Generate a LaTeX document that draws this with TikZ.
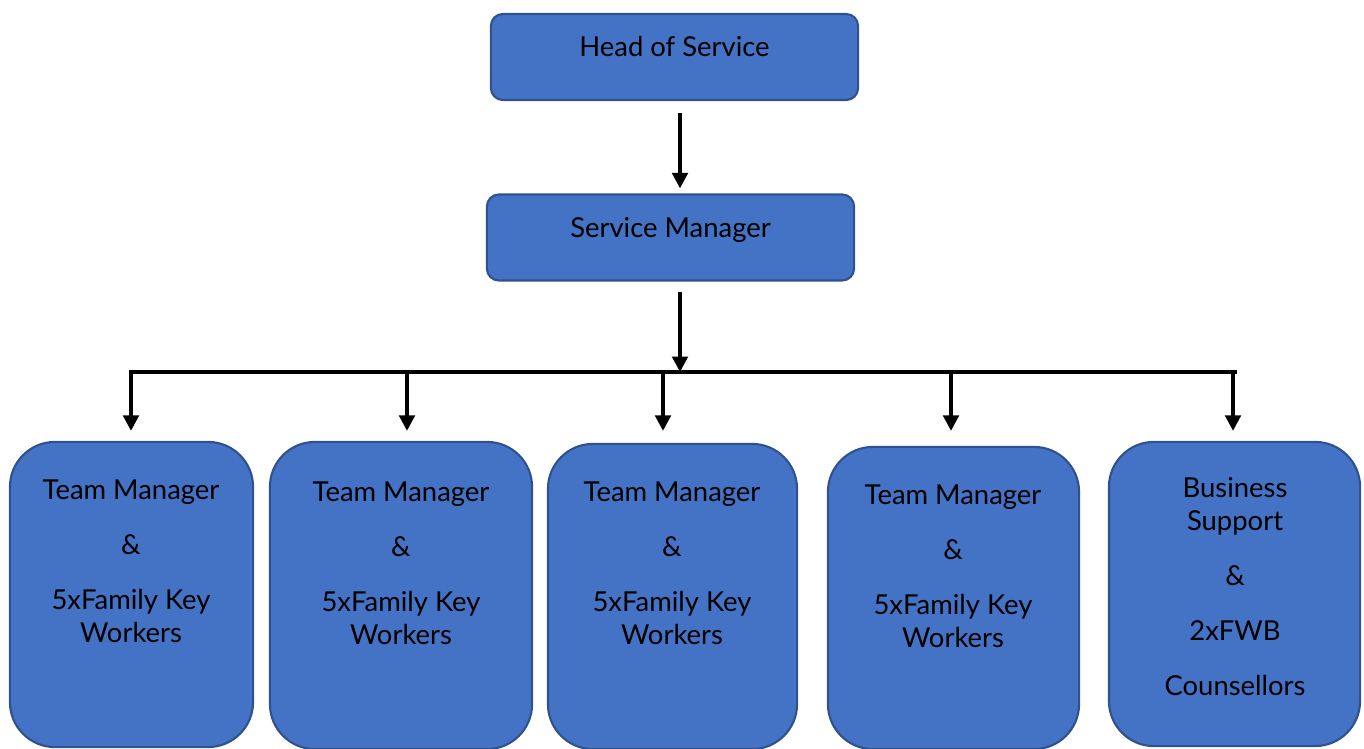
\documentclass[tikz,border=0pt]{standalone}
\usepackage{fontspec}
\setmainfont{Lato}
\usetikzlibrary{arrows.meta}

\definecolor{boxblue}{HTML}{4472C4}
\definecolor{boxedge}{HTML}{2F528F}

\tikzset{
  topbox/.style={draw=boxedge, fill=boxblue, line width=0.6pt, rounded corners=0.12cm,
    minimum width=3.67cm, minimum height=0.86cm, text depth=6.2pt, text height=6pt},
  teambox/.style={draw=boxedge, fill=boxblue, line width=0.6pt, rounded corners=0.45cm},
  boxtext/.style={anchor=north, align=center, inner sep=0pt},
  link/.style={line width=1pt, -{Triangle[width=4.4pt,length=4.4pt]}},
}

\begin{document}
\begin{tikzpicture}[x=0.01cm, y=-0.01cm, font=\fontsize{7.8}{9.4}\selectfont]
        \useasboundingbox (0,0) rectangle (1364,749);
        % top of the chart
        \node[topbox] (head) at (674.5,57) {Head of Service};
        \node[topbox] (sm) at (670.5,237.5) {Service Manager};

        % teams
        \node[teambox, minimum width=2.43cm, minimum height=3.05cm] (tm1) at (131.5,594.5) {};
        \node[teambox, minimum width=2.62cm, minimum height=3.07cm] (tm2) at (401,595.5) {};
        \node[teambox, minimum width=2.49cm, minimum height=3.05cm] (tm3) at (672.5,596.5) {};
        \node[teambox, minimum width=2.51cm, minimum height=3.02cm] (tm4) at (953.5,598) {};
        \node[teambox, minimum width=2.51cm, minimum height=3.04cm] (bs) at (1234.5,594) {};

        \node[boxtext] (tm1txt) at (131,479) {Team Manager\\[6.2pt]\&\\[6.2pt]5xFamily Key\\Workers};
        \node[boxtext] (tm2txt) at (401,481) {Team Manager\\[6.2pt]\&\\[6.2pt]5xFamily Key\\Workers};
        \node[boxtext] (tm3txt) at (672,481) {Team Manager\\[6.2pt]\&\\[6.2pt]5xFamily Key\\Workers};
        \node[boxtext] (tm4txt) at (953,484) {Team Manager\\[6.2pt]\&\\[6.2pt]5xFamily Key\\Workers};
        \node[boxtext] (bstxt) at (1235,477) {Business\\Support\\[6.2pt]\&\\[6.2pt]2xFWB\\[6.2pt]Counsellors};

        % connectors
        \coordinate (bar) at (680,372);
        \coordinate (barL) at (131,372);
        \coordinate (barR) at (1235,372);
        \coordinate (d1) at (131,372);
        \coordinate (d2) at (407,372);
        \coordinate (d3) at (663,372);
        \coordinate (d4) at (951,372);
        \coordinate (d5) at (1233,372);

        \draw[link, shorten <=0.12cm, shorten >=0.05cm] (head.south -| bar) -- (sm.north -| bar);
        \draw[link, shorten <=0.1cm] (sm.south -| bar) -- (bar);
        \draw[line width=1pt, line cap=rect] (barL) -- (barR);
        \draw[link, shorten >=0.1cm] (d1) -- (d1 |- tm1.north);
        \draw[link, shorten >=0.1cm] (d2) -- (d2 |- tm2.north);
        \draw[link, shorten >=0.12cm] (d3) -- (d3 |- tm3.north);
        \draw[link, shorten >=0.15cm] (d4) -- (d4 |- tm4.north);
        \draw[link, shorten >=0.1cm] (d5) -- (d5 |- bs.north);
    \end{tikzpicture}
\end{document}
